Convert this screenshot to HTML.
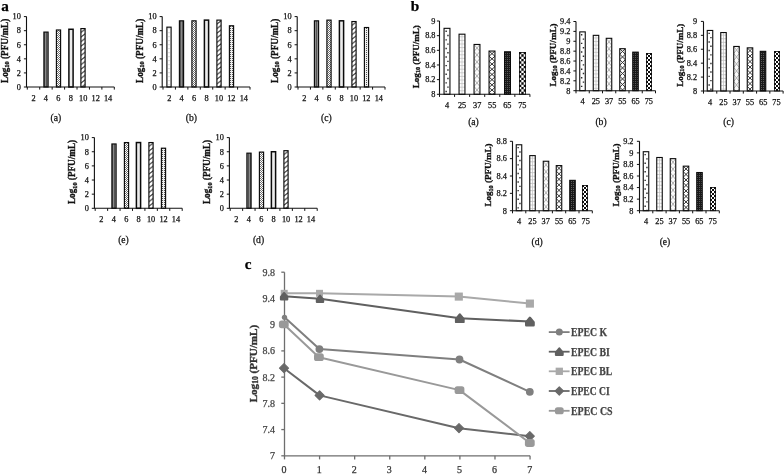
<!DOCTYPE html>
<html><head><meta charset="utf-8"><title>Figure</title>
<style>html,body{margin:0;padding:0;background:#fff;}body{width:784px;height:475px;overflow:hidden;}svg{display:block;font-family:"Liberation Serif",serif;filter:blur(0.45px);}</style>
</head><body>
<svg width="784" height="475" viewBox="0 0 784 475">
<defs>
<pattern id="a2" width="3" height="4" patternUnits="userSpaceOnUse"><rect width="3" height="4" fill="#fff"/><rect x="1" y="1" width="1" height="1" fill="#bbb"/></pattern>
<pattern id="a4" width="2" height="2" patternUnits="userSpaceOnUse"><rect width="2" height="2" fill="#8a8a8a"/><rect width="1" height="2" fill="#555"/></pattern>
<pattern id="a6" width="2" height="2" patternUnits="userSpaceOnUse"><rect width="2" height="2" fill="#fff"/><rect x="0" y="0" width="1" height="1" fill="#707070"/><rect x="1" y="1" width="1" height="1" fill="#707070"/></pattern>
<pattern id="a10" width="6" height="4.6" patternUnits="userSpaceOnUse"><rect width="6" height="4.6" fill="#fff"/><path d="M-1 5.37 L7 -0.77 M-1 9.97 L7 3.83 M-1 0.77 L7 -5.37" stroke="#333" stroke-width="1.05"/></pattern>
<pattern id="a12" width="2" height="2" patternUnits="userSpaceOnUse"><rect width="2" height="2" fill="#ededed"/><rect x="0" y="0" width="1" height="1" fill="#505050"/></pattern>
<pattern id="b1" width="4.4" height="8.6" patternUnits="userSpaceOnUse"><rect width="4.4" height="8.6" fill="#fff"/><rect x="0.6" y="1.5" width="1.3" height="1.3" fill="#6a6a6a"/><rect x="2.6" y="5.8" width="1.3" height="1.3" fill="#6a6a6a"/></pattern>
<pattern id="b2" width="4.4" height="4.3" patternUnits="userSpaceOnUse"><rect width="4.4" height="4.3" fill="#f1f1f1"/><path d="M0 0.5H4.4M2.2 0V4.3" stroke="#bcbcbc" stroke-width="0.9"/></pattern>
<pattern id="b3" width="4.4" height="6.4" patternUnits="userSpaceOnUse"><rect width="4.4" height="6.4" fill="#f7f7f7"/><path d="M0 0L4.4 6.4M4.4 0L0 6.4" stroke="#a8a8a8" stroke-width="0.8"/></pattern>
<pattern id="b4" width="5" height="4.4" patternUnits="userSpaceOnUse"><rect width="5" height="4.4" fill="#fff"/><path d="M0 0L5 4.4M5 0L0 4.4" stroke="#222" stroke-width="0.9"/></pattern>
<pattern id="b5" width="2" height="2" patternUnits="userSpaceOnUse"><rect width="2" height="2" fill="#1a1a1a"/><rect x="1" y="1" width="1" height="1" fill="#5a5a5a"/></pattern>
<pattern id="b6" width="4" height="4" patternUnits="userSpaceOnUse"><rect width="4" height="4" fill="#fff"/><rect x="0" y="0" width="2" height="2" fill="#111"/><rect x="2" y="2" width="2" height="2" fill="#111"/></pattern>
</defs>
<rect width="784" height="475" fill="#fff"/>
<text x="1.20" y="11.20" font-size="15.2" text-anchor="start" font-weight="bold" fill="#000" stroke="#000" stroke-width="0.25" >a</text>
<text x="410.80" y="11.30" font-size="15.3" text-anchor="start" font-weight="bold" fill="#000" stroke="#000" stroke-width="0.25" >b</text>
<text x="244.80" y="269.10" font-size="15.2" text-anchor="start" font-weight="bold" fill="#000" stroke="#000" stroke-width="0.25" >c</text>
<rect x="43.90" y="32.09" width="4.20" height="54.91" fill="url(#a4)" stroke="#0a0a0a" stroke-width="1.15"/>
<rect x="56.40" y="29.98" width="4.20" height="57.02" fill="url(#a6)" stroke="#0a0a0a" stroke-width="1.15"/>
<rect x="68.90" y="29.27" width="4.20" height="57.73" fill="#ececec" stroke="#0a0a0a" stroke-width="1.5"/>
<pattern id="a10_1" href="#a10" x="80.00" y="28.57"/>
<rect x="80.90" y="28.57" width="4.20" height="58.43" fill="url(#a10_1)" stroke="#0a0a0a" stroke-width="1.15"/>
<path d="M26.50 16.60V87.00H114.31" fill="none" stroke="#111" stroke-width="1.1"/>
<path d="M23.90 87.00H26.50" stroke="#111" stroke-width="1"/>
<text x="20.90" y="89.80" font-size="8.3" text-anchor="end" font-weight="normal" fill="#111" stroke="#111" stroke-width="0.25" >0</text>
<path d="M23.90 72.92H26.50" stroke="#111" stroke-width="1"/>
<text x="20.90" y="75.72" font-size="8.3" text-anchor="end" font-weight="normal" fill="#111" stroke="#111" stroke-width="0.25" >2</text>
<path d="M23.90 58.84H26.50" stroke="#111" stroke-width="1"/>
<text x="20.90" y="61.64" font-size="8.3" text-anchor="end" font-weight="normal" fill="#111" stroke="#111" stroke-width="0.25" >4</text>
<path d="M23.90 44.76H26.50" stroke="#111" stroke-width="1"/>
<text x="20.90" y="47.56" font-size="8.3" text-anchor="end" font-weight="normal" fill="#111" stroke="#111" stroke-width="0.25" >6</text>
<path d="M23.90 30.68H26.50" stroke="#111" stroke-width="1"/>
<text x="20.90" y="33.48" font-size="8.3" text-anchor="end" font-weight="normal" fill="#111" stroke="#111" stroke-width="0.25" >8</text>
<path d="M23.90 16.60H26.50" stroke="#111" stroke-width="1"/>
<text x="20.90" y="19.40" font-size="8.3" text-anchor="end" font-weight="normal" fill="#111" stroke="#111" stroke-width="0.25" >10</text>
<path d="M27.30 87.00V89.60" stroke="#111" stroke-width="1"/>
<path d="M39.73 87.00V89.60" stroke="#111" stroke-width="1"/>
<path d="M52.16 87.00V89.60" stroke="#111" stroke-width="1"/>
<path d="M64.59 87.00V89.60" stroke="#111" stroke-width="1"/>
<path d="M77.02 87.00V89.60" stroke="#111" stroke-width="1"/>
<path d="M89.45 87.00V89.60" stroke="#111" stroke-width="1"/>
<path d="M101.88 87.00V89.60" stroke="#111" stroke-width="1"/>
<path d="M114.31 87.00V89.60" stroke="#111" stroke-width="1"/>
<text x="33.52" y="100.90" font-size="8.3" text-anchor="middle" font-weight="normal" fill="#111" stroke="#111" stroke-width="0.25" >2</text>
<text x="45.95" y="100.90" font-size="8.3" text-anchor="middle" font-weight="normal" fill="#111" stroke="#111" stroke-width="0.25" >4</text>
<text x="58.38" y="100.90" font-size="8.3" text-anchor="middle" font-weight="normal" fill="#111" stroke="#111" stroke-width="0.25" >6</text>
<text x="70.80" y="100.90" font-size="8.3" text-anchor="middle" font-weight="normal" fill="#111" stroke="#111" stroke-width="0.25" >8</text>
<text x="83.23" y="100.90" font-size="8.3" text-anchor="middle" font-weight="normal" fill="#111" stroke="#111" stroke-width="0.25" >10</text>
<text x="95.66" y="100.90" font-size="8.3" text-anchor="middle" font-weight="normal" fill="#111" stroke="#111" stroke-width="0.25" >12</text>
<text x="108.09" y="100.90" font-size="8.3" text-anchor="middle" font-weight="normal" fill="#111" stroke="#111" stroke-width="0.25" >14</text>
<text x="55.90" y="121.20" font-size="9.6" text-anchor="middle" font-weight="normal" fill="#111" stroke="#111" stroke-width="0.25" >(a)</text>
<g transform="translate(4.70,50.80) rotate(-90)">
<text x="0" y="0" font-size="9.3" font-weight="bold" fill="#111" stroke="#111" stroke-width="0.35" text-anchor="middle" textLength="64.2" lengthAdjust="spacingAndGlyphs" dominant-baseline="central">Log<tspan font-size="6.32" dy="1.49">10</tspan><tspan dy="-1.49"> (PFU/mL)</tspan></text>
</g>
<pattern id="a2_2" href="#a2" x="167.50" y="27.16"/>
<rect x="166.90" y="27.16" width="4.20" height="59.84" fill="url(#a2_2)" stroke="#0a0a0a" stroke-width="1.15"/>
<rect x="179.40" y="20.82" width="4.20" height="66.18" fill="url(#a4)" stroke="#0a0a0a" stroke-width="1.15"/>
<rect x="191.90" y="20.82" width="4.20" height="66.18" fill="url(#a6)" stroke="#0a0a0a" stroke-width="1.15"/>
<rect x="204.40" y="20.12" width="4.20" height="66.88" fill="#ececec" stroke="#0a0a0a" stroke-width="1.5"/>
<pattern id="a10_3" href="#a10" x="216.00" y="20.12"/>
<rect x="216.90" y="20.12" width="4.20" height="66.88" fill="url(#a10_3)" stroke="#0a0a0a" stroke-width="1.15"/>
<rect x="229.40" y="25.75" width="4.20" height="61.25" fill="url(#a12)" stroke="#0a0a0a" stroke-width="1.15"/>
<path d="M162.20 16.60V87.00H250.01" fill="none" stroke="#111" stroke-width="1.1"/>
<path d="M159.60 87.00H162.20" stroke="#111" stroke-width="1"/>
<text x="156.60" y="89.80" font-size="8.3" text-anchor="end" font-weight="normal" fill="#111" stroke="#111" stroke-width="0.25" >0</text>
<path d="M159.60 72.92H162.20" stroke="#111" stroke-width="1"/>
<text x="156.60" y="75.72" font-size="8.3" text-anchor="end" font-weight="normal" fill="#111" stroke="#111" stroke-width="0.25" >2</text>
<path d="M159.60 58.84H162.20" stroke="#111" stroke-width="1"/>
<text x="156.60" y="61.64" font-size="8.3" text-anchor="end" font-weight="normal" fill="#111" stroke="#111" stroke-width="0.25" >4</text>
<path d="M159.60 44.76H162.20" stroke="#111" stroke-width="1"/>
<text x="156.60" y="47.56" font-size="8.3" text-anchor="end" font-weight="normal" fill="#111" stroke="#111" stroke-width="0.25" >6</text>
<path d="M159.60 30.68H162.20" stroke="#111" stroke-width="1"/>
<text x="156.60" y="33.48" font-size="8.3" text-anchor="end" font-weight="normal" fill="#111" stroke="#111" stroke-width="0.25" >8</text>
<path d="M159.60 16.60H162.20" stroke="#111" stroke-width="1"/>
<text x="156.60" y="19.40" font-size="8.3" text-anchor="end" font-weight="normal" fill="#111" stroke="#111" stroke-width="0.25" >10</text>
<path d="M163.00 87.00V89.60" stroke="#111" stroke-width="1"/>
<path d="M175.43 87.00V89.60" stroke="#111" stroke-width="1"/>
<path d="M187.86 87.00V89.60" stroke="#111" stroke-width="1"/>
<path d="M200.29 87.00V89.60" stroke="#111" stroke-width="1"/>
<path d="M212.72 87.00V89.60" stroke="#111" stroke-width="1"/>
<path d="M225.15 87.00V89.60" stroke="#111" stroke-width="1"/>
<path d="M237.58 87.00V89.60" stroke="#111" stroke-width="1"/>
<path d="M250.01 87.00V89.60" stroke="#111" stroke-width="1"/>
<text x="169.22" y="100.90" font-size="8.3" text-anchor="middle" font-weight="normal" fill="#111" stroke="#111" stroke-width="0.25" >2</text>
<text x="181.65" y="100.90" font-size="8.3" text-anchor="middle" font-weight="normal" fill="#111" stroke="#111" stroke-width="0.25" >4</text>
<text x="194.07" y="100.90" font-size="8.3" text-anchor="middle" font-weight="normal" fill="#111" stroke="#111" stroke-width="0.25" >6</text>
<text x="206.50" y="100.90" font-size="8.3" text-anchor="middle" font-weight="normal" fill="#111" stroke="#111" stroke-width="0.25" >8</text>
<text x="218.94" y="100.90" font-size="8.3" text-anchor="middle" font-weight="normal" fill="#111" stroke="#111" stroke-width="0.25" >10</text>
<text x="231.37" y="100.90" font-size="8.3" text-anchor="middle" font-weight="normal" fill="#111" stroke="#111" stroke-width="0.25" >12</text>
<text x="243.80" y="100.90" font-size="8.3" text-anchor="middle" font-weight="normal" fill="#111" stroke="#111" stroke-width="0.25" >14</text>
<text x="191.40" y="121.20" font-size="9.6" text-anchor="middle" font-weight="normal" fill="#111" stroke="#111" stroke-width="0.25" >(b)</text>
<g transform="translate(139.60,50.80) rotate(-90)">
<text x="0" y="0" font-size="9.3" font-weight="bold" fill="#111" stroke="#111" stroke-width="0.35" text-anchor="middle" textLength="64.2" lengthAdjust="spacingAndGlyphs" dominant-baseline="central">Log<tspan font-size="6.32" dy="1.49">10</tspan><tspan dy="-1.49"> (PFU/mL)</tspan></text>
</g>
<rect x="314.40" y="20.82" width="4.20" height="66.18" fill="url(#a4)" stroke="#0a0a0a" stroke-width="1.15"/>
<rect x="326.90" y="20.12" width="4.20" height="66.88" fill="url(#a6)" stroke="#0a0a0a" stroke-width="1.15"/>
<rect x="339.40" y="20.82" width="4.20" height="66.18" fill="#ececec" stroke="#0a0a0a" stroke-width="1.5"/>
<pattern id="a10_4" href="#a10" x="351.00" y="21.53"/>
<rect x="351.90" y="21.53" width="4.20" height="65.47" fill="url(#a10_4)" stroke="#0a0a0a" stroke-width="1.15"/>
<rect x="364.40" y="27.51" width="4.20" height="59.49" fill="url(#a12)" stroke="#0a0a0a" stroke-width="1.15"/>
<path d="M297.20 16.60V87.00H385.01" fill="none" stroke="#111" stroke-width="1.1"/>
<path d="M294.60 87.00H297.20" stroke="#111" stroke-width="1"/>
<text x="291.60" y="89.80" font-size="8.3" text-anchor="end" font-weight="normal" fill="#111" stroke="#111" stroke-width="0.25" >0</text>
<path d="M294.60 72.92H297.20" stroke="#111" stroke-width="1"/>
<text x="291.60" y="75.72" font-size="8.3" text-anchor="end" font-weight="normal" fill="#111" stroke="#111" stroke-width="0.25" >2</text>
<path d="M294.60 58.84H297.20" stroke="#111" stroke-width="1"/>
<text x="291.60" y="61.64" font-size="8.3" text-anchor="end" font-weight="normal" fill="#111" stroke="#111" stroke-width="0.25" >4</text>
<path d="M294.60 44.76H297.20" stroke="#111" stroke-width="1"/>
<text x="291.60" y="47.56" font-size="8.3" text-anchor="end" font-weight="normal" fill="#111" stroke="#111" stroke-width="0.25" >6</text>
<path d="M294.60 30.68H297.20" stroke="#111" stroke-width="1"/>
<text x="291.60" y="33.48" font-size="8.3" text-anchor="end" font-weight="normal" fill="#111" stroke="#111" stroke-width="0.25" >8</text>
<path d="M294.60 16.60H297.20" stroke="#111" stroke-width="1"/>
<text x="291.60" y="19.40" font-size="8.3" text-anchor="end" font-weight="normal" fill="#111" stroke="#111" stroke-width="0.25" >10</text>
<path d="M298.00 87.00V89.60" stroke="#111" stroke-width="1"/>
<path d="M310.43 87.00V89.60" stroke="#111" stroke-width="1"/>
<path d="M322.86 87.00V89.60" stroke="#111" stroke-width="1"/>
<path d="M335.29 87.00V89.60" stroke="#111" stroke-width="1"/>
<path d="M347.72 87.00V89.60" stroke="#111" stroke-width="1"/>
<path d="M360.15 87.00V89.60" stroke="#111" stroke-width="1"/>
<path d="M372.58 87.00V89.60" stroke="#111" stroke-width="1"/>
<path d="M385.01 87.00V89.60" stroke="#111" stroke-width="1"/>
<text x="304.21" y="100.90" font-size="8.3" text-anchor="middle" font-weight="normal" fill="#111" stroke="#111" stroke-width="0.25" >2</text>
<text x="316.64" y="100.90" font-size="8.3" text-anchor="middle" font-weight="normal" fill="#111" stroke="#111" stroke-width="0.25" >4</text>
<text x="329.07" y="100.90" font-size="8.3" text-anchor="middle" font-weight="normal" fill="#111" stroke="#111" stroke-width="0.25" >6</text>
<text x="341.50" y="100.90" font-size="8.3" text-anchor="middle" font-weight="normal" fill="#111" stroke="#111" stroke-width="0.25" >8</text>
<text x="353.94" y="100.90" font-size="8.3" text-anchor="middle" font-weight="normal" fill="#111" stroke="#111" stroke-width="0.25" >10</text>
<text x="366.37" y="100.90" font-size="8.3" text-anchor="middle" font-weight="normal" fill="#111" stroke="#111" stroke-width="0.25" >12</text>
<text x="378.80" y="100.90" font-size="8.3" text-anchor="middle" font-weight="normal" fill="#111" stroke="#111" stroke-width="0.25" >14</text>
<text x="326.40" y="121.20" font-size="9.6" text-anchor="middle" font-weight="normal" fill="#111" stroke="#111" stroke-width="0.25" >(c)</text>
<g transform="translate(274.60,50.80) rotate(-90)">
<text x="0" y="0" font-size="9.3" font-weight="bold" fill="#111" stroke="#111" stroke-width="0.35" text-anchor="middle" textLength="64.2" lengthAdjust="spacingAndGlyphs" dominant-baseline="central">Log<tspan font-size="6.32" dy="1.49">10</tspan><tspan dy="-1.49"> (PFU/mL)</tspan></text>
</g>
<rect x="111.90" y="143.96" width="4.20" height="64.34" fill="url(#a4)" stroke="#0a0a0a" stroke-width="1.15"/>
<rect x="124.40" y="142.55" width="4.20" height="65.75" fill="url(#a6)" stroke="#0a0a0a" stroke-width="1.15"/>
<rect x="136.40" y="142.55" width="4.20" height="65.75" fill="#ececec" stroke="#0a0a0a" stroke-width="1.5"/>
<pattern id="a10_5" href="#a10" x="148.00" y="142.55"/>
<rect x="148.90" y="142.55" width="4.20" height="65.75" fill="url(#a10_5)" stroke="#0a0a0a" stroke-width="1.15"/>
<rect x="161.40" y="148.20" width="4.20" height="60.10" fill="url(#a12)" stroke="#0a0a0a" stroke-width="1.15"/>
<path d="M94.40 137.60V208.30H182.21" fill="none" stroke="#111" stroke-width="1.1"/>
<path d="M91.80 208.30H94.40" stroke="#111" stroke-width="1"/>
<text x="88.80" y="211.10" font-size="8.3" text-anchor="end" font-weight="normal" fill="#111" stroke="#111" stroke-width="0.25" >0</text>
<path d="M91.80 194.16H94.40" stroke="#111" stroke-width="1"/>
<text x="88.80" y="196.96" font-size="8.3" text-anchor="end" font-weight="normal" fill="#111" stroke="#111" stroke-width="0.25" >2</text>
<path d="M91.80 180.02H94.40" stroke="#111" stroke-width="1"/>
<text x="88.80" y="182.82" font-size="8.3" text-anchor="end" font-weight="normal" fill="#111" stroke="#111" stroke-width="0.25" >4</text>
<path d="M91.80 165.88H94.40" stroke="#111" stroke-width="1"/>
<text x="88.80" y="168.68" font-size="8.3" text-anchor="end" font-weight="normal" fill="#111" stroke="#111" stroke-width="0.25" >6</text>
<path d="M91.80 151.74H94.40" stroke="#111" stroke-width="1"/>
<text x="88.80" y="154.54" font-size="8.3" text-anchor="end" font-weight="normal" fill="#111" stroke="#111" stroke-width="0.25" >8</text>
<path d="M91.80 137.60H94.40" stroke="#111" stroke-width="1"/>
<text x="88.80" y="140.40" font-size="8.3" text-anchor="end" font-weight="normal" fill="#111" stroke="#111" stroke-width="0.25" >10</text>
<path d="M95.20 208.30V210.90" stroke="#111" stroke-width="1"/>
<path d="M107.63 208.30V210.90" stroke="#111" stroke-width="1"/>
<path d="M120.06 208.30V210.90" stroke="#111" stroke-width="1"/>
<path d="M132.49 208.30V210.90" stroke="#111" stroke-width="1"/>
<path d="M144.92 208.30V210.90" stroke="#111" stroke-width="1"/>
<path d="M157.35 208.30V210.90" stroke="#111" stroke-width="1"/>
<path d="M169.78 208.30V210.90" stroke="#111" stroke-width="1"/>
<path d="M182.21 208.30V210.90" stroke="#111" stroke-width="1"/>
<text x="101.42" y="222.20" font-size="8.3" text-anchor="middle" font-weight="normal" fill="#111" stroke="#111" stroke-width="0.25" >2</text>
<text x="113.84" y="222.20" font-size="8.3" text-anchor="middle" font-weight="normal" fill="#111" stroke="#111" stroke-width="0.25" >4</text>
<text x="126.28" y="222.20" font-size="8.3" text-anchor="middle" font-weight="normal" fill="#111" stroke="#111" stroke-width="0.25" >6</text>
<text x="138.70" y="222.20" font-size="8.3" text-anchor="middle" font-weight="normal" fill="#111" stroke="#111" stroke-width="0.25" >8</text>
<text x="151.13" y="222.20" font-size="8.3" text-anchor="middle" font-weight="normal" fill="#111" stroke="#111" stroke-width="0.25" >10</text>
<text x="163.56" y="222.20" font-size="8.3" text-anchor="middle" font-weight="normal" fill="#111" stroke="#111" stroke-width="0.25" >12</text>
<text x="176.00" y="222.20" font-size="8.3" text-anchor="middle" font-weight="normal" fill="#111" stroke="#111" stroke-width="0.25" >14</text>
<text x="123.50" y="242.50" font-size="9.6" text-anchor="middle" font-weight="normal" fill="#111" stroke="#111" stroke-width="0.25" >(e)</text>
<g transform="translate(72.10,171.95) rotate(-90)">
<text x="0" y="0" font-size="9.3" font-weight="bold" fill="#111" stroke="#111" stroke-width="0.35" text-anchor="middle" textLength="64.2" lengthAdjust="spacingAndGlyphs" dominant-baseline="central">Log<tspan font-size="6.32" dy="1.49">10</tspan><tspan dy="-1.49"> (PFU/mL)</tspan></text>
</g>
<rect x="246.90" y="153.15" width="4.20" height="55.15" fill="url(#a4)" stroke="#0a0a0a" stroke-width="1.15"/>
<rect x="259.40" y="152.09" width="4.20" height="56.21" fill="url(#a6)" stroke="#0a0a0a" stroke-width="1.15"/>
<rect x="271.40" y="151.74" width="4.20" height="56.56" fill="#ececec" stroke="#0a0a0a" stroke-width="1.5"/>
<pattern id="a10_6" href="#a10" x="283.00" y="150.68"/>
<rect x="283.90" y="150.68" width="4.20" height="57.62" fill="url(#a10_6)" stroke="#0a0a0a" stroke-width="1.15"/>
<path d="M229.40 137.60V208.30H317.21" fill="none" stroke="#111" stroke-width="1.1"/>
<path d="M226.80 208.30H229.40" stroke="#111" stroke-width="1"/>
<text x="223.80" y="211.10" font-size="8.3" text-anchor="end" font-weight="normal" fill="#111" stroke="#111" stroke-width="0.25" >0</text>
<path d="M226.80 194.16H229.40" stroke="#111" stroke-width="1"/>
<text x="223.80" y="196.96" font-size="8.3" text-anchor="end" font-weight="normal" fill="#111" stroke="#111" stroke-width="0.25" >2</text>
<path d="M226.80 180.02H229.40" stroke="#111" stroke-width="1"/>
<text x="223.80" y="182.82" font-size="8.3" text-anchor="end" font-weight="normal" fill="#111" stroke="#111" stroke-width="0.25" >4</text>
<path d="M226.80 165.88H229.40" stroke="#111" stroke-width="1"/>
<text x="223.80" y="168.68" font-size="8.3" text-anchor="end" font-weight="normal" fill="#111" stroke="#111" stroke-width="0.25" >6</text>
<path d="M226.80 151.74H229.40" stroke="#111" stroke-width="1"/>
<text x="223.80" y="154.54" font-size="8.3" text-anchor="end" font-weight="normal" fill="#111" stroke="#111" stroke-width="0.25" >8</text>
<path d="M226.80 137.60H229.40" stroke="#111" stroke-width="1"/>
<text x="223.80" y="140.40" font-size="8.3" text-anchor="end" font-weight="normal" fill="#111" stroke="#111" stroke-width="0.25" >10</text>
<path d="M230.20 208.30V210.90" stroke="#111" stroke-width="1"/>
<path d="M242.63 208.30V210.90" stroke="#111" stroke-width="1"/>
<path d="M255.06 208.30V210.90" stroke="#111" stroke-width="1"/>
<path d="M267.49 208.30V210.90" stroke="#111" stroke-width="1"/>
<path d="M279.92 208.30V210.90" stroke="#111" stroke-width="1"/>
<path d="M292.35 208.30V210.90" stroke="#111" stroke-width="1"/>
<path d="M304.78 208.30V210.90" stroke="#111" stroke-width="1"/>
<path d="M317.21 208.30V210.90" stroke="#111" stroke-width="1"/>
<text x="236.41" y="222.20" font-size="8.3" text-anchor="middle" font-weight="normal" fill="#111" stroke="#111" stroke-width="0.25" >2</text>
<text x="248.84" y="222.20" font-size="8.3" text-anchor="middle" font-weight="normal" fill="#111" stroke="#111" stroke-width="0.25" >4</text>
<text x="261.27" y="222.20" font-size="8.3" text-anchor="middle" font-weight="normal" fill="#111" stroke="#111" stroke-width="0.25" >6</text>
<text x="273.70" y="222.20" font-size="8.3" text-anchor="middle" font-weight="normal" fill="#111" stroke="#111" stroke-width="0.25" >8</text>
<text x="286.13" y="222.20" font-size="8.3" text-anchor="middle" font-weight="normal" fill="#111" stroke="#111" stroke-width="0.25" >10</text>
<text x="298.56" y="222.20" font-size="8.3" text-anchor="middle" font-weight="normal" fill="#111" stroke="#111" stroke-width="0.25" >12</text>
<text x="311.00" y="222.20" font-size="8.3" text-anchor="middle" font-weight="normal" fill="#111" stroke="#111" stroke-width="0.25" >14</text>
<text x="258.50" y="242.50" font-size="9.6" text-anchor="middle" font-weight="normal" fill="#111" stroke="#111" stroke-width="0.25" >(d)</text>
<g transform="translate(207.10,171.95) rotate(-90)">
<text x="0" y="0" font-size="9.3" font-weight="bold" fill="#111" stroke="#111" stroke-width="0.35" text-anchor="middle" textLength="64.2" lengthAdjust="spacingAndGlyphs" dominant-baseline="central">Log<tspan font-size="6.32" dy="1.49">10</tspan><tspan dy="-1.49"> (PFU/mL)</tspan></text>
</g>
<clipPath id="c7"><rect x="444.05" y="28.33" width="5.90" height="65.97"/></clipPath>
<rect x="444.05" y="28.33" width="5.90" height="65.97" fill="#fff"/>
<g clip-path="url(#c7)">
<path d="M445.45 30.53h1.4v1.4h-1.4zM447.25 34.83h1.4v1.4h-1.4zM445.45 39.13h1.4v1.4h-1.4zM447.25 43.43h1.4v1.4h-1.4zM445.45 47.73h1.4v1.4h-1.4zM447.25 52.03h1.4v1.4h-1.4zM445.45 56.33h1.4v1.4h-1.4zM447.25 60.63h1.4v1.4h-1.4zM445.45 64.93h1.4v1.4h-1.4zM447.25 69.23h1.4v1.4h-1.4zM445.45 73.53h1.4v1.4h-1.4zM447.25 77.83h1.4v1.4h-1.4zM445.45 82.13h1.4v1.4h-1.4zM447.25 86.43h1.4v1.4h-1.4zM445.45 90.73h1.4v1.4h-1.4z" fill="#2a2a2a"/>
</g>
<rect x="444.05" y="28.33" width="5.90" height="65.97" fill="none" stroke="#0a0a0a" stroke-width="1.1"/>
<clipPath id="c8"><rect x="459.05" y="34.19" width="5.90" height="60.11"/></clipPath>
<rect x="459.05" y="34.19" width="5.90" height="60.11" fill="#fff"/>
<g clip-path="url(#c8)">
<path d="M462.00 34.19V94.30M459.05 36.79h5.90M459.05 40.39h5.90M459.05 43.99h5.90M459.05 47.59h5.90M459.05 51.19h5.90M459.05 54.79h5.90M459.05 58.39h5.90M459.05 61.99h5.90M459.05 65.59h5.90M459.05 69.19h5.90M459.05 72.79h5.90M459.05 76.39h5.90M459.05 79.99h5.90M459.05 83.59h5.90M459.05 87.19h5.90M459.05 90.79h5.90" fill="none" stroke="#bdbdbd" stroke-width="0.7"/>
</g>
<rect x="459.05" y="34.19" width="5.90" height="60.11" fill="none" stroke="#0a0a0a" stroke-width="1.1"/>
<clipPath id="c9"><rect x="474.05" y="44.46" width="5.90" height="49.84"/></clipPath>
<rect x="474.05" y="44.46" width="5.90" height="49.84" fill="#fafafa"/>
<g clip-path="url(#c9)">
<path d="M474.05 44.46L479.95 51.46L474.05 58.46L479.95 65.46L474.05 72.46L479.95 79.46L474.05 86.46L479.95 93.46L474.05 100.46M479.95 44.46L474.05 51.46L479.95 58.46L474.05 65.46L479.95 72.46L474.05 79.46L479.95 86.46L474.05 93.46L479.95 100.46" fill="none" stroke="#a0a0a0" stroke-width="0.8"/>
</g>
<rect x="474.05" y="44.46" width="5.90" height="49.84" fill="none" stroke="#0a0a0a" stroke-width="1.1"/>
<clipPath id="c10"><rect x="489.05" y="51.05" width="5.90" height="43.25"/></clipPath>
<rect x="489.05" y="51.05" width="5.90" height="43.25" fill="#fff"/>
<g clip-path="url(#c10)">
<path d="M489.05 51.05L494.95 56.25L489.05 61.45L494.95 66.65L489.05 71.85L494.95 77.05L489.05 82.25L494.95 87.45L489.05 92.65L494.95 97.85M494.95 51.05L489.05 56.25L494.95 61.45L489.05 66.65L494.95 71.85L489.05 77.05L494.95 82.25L489.05 87.45L494.95 92.65L489.05 97.85" fill="none" stroke="#2a2a2a" stroke-width="0.95"/>
</g>
<rect x="489.05" y="51.05" width="5.90" height="43.25" fill="none" stroke="#0a0a0a" stroke-width="1.1"/>
<rect x="504.55" y="51.79" width="5.90" height="42.51" fill="url(#b5)" stroke="#0a0a0a" stroke-width="1.1"/>
<rect x="519" y="52" width="7.00" height="42.30" fill="#fff"/>
<path d="M519.00 52.00h2.33v2.33h-2.33zM523.67 52.00h2.33v2.33h-2.33zM521.33 54.33h2.33v2.33h-2.33zM519.00 56.67h2.33v2.33h-2.33zM523.67 56.67h2.33v2.33h-2.33zM521.33 59.00h2.33v2.33h-2.33zM519.00 61.33h2.33v2.33h-2.33zM523.67 61.33h2.33v2.33h-2.33zM521.33 63.67h2.33v2.33h-2.33zM519.00 66.00h2.33v2.33h-2.33zM523.67 66.00h2.33v2.33h-2.33zM521.33 68.33h2.33v2.33h-2.33zM519.00 70.67h2.33v2.33h-2.33zM523.67 70.67h2.33v2.33h-2.33zM521.33 73.00h2.33v2.33h-2.33zM519.00 75.33h2.33v2.33h-2.33zM523.67 75.33h2.33v2.33h-2.33zM521.33 77.67h2.33v2.33h-2.33zM519.00 80.00h2.33v2.33h-2.33zM523.67 80.00h2.33v2.33h-2.33zM521.33 82.33h2.33v2.33h-2.33zM519.00 84.67h2.33v2.33h-2.33zM523.67 84.67h2.33v2.33h-2.33zM521.33 87.00h2.33v2.33h-2.33zM519.00 89.33h2.33v2.33h-2.33zM523.67 89.33h2.33v2.33h-2.33zM521.33 91.67h2.33v2.33h-2.33zM519.00 94.00h2.33v0.30h-2.33zM523.67 94.00h2.33v0.30h-2.33z" fill="#0c0c0c"/>
<rect x="519.40" y="52.40" width="6.20" height="41.90" fill="none" stroke="#0c0c0c" stroke-width="0.8"/>
<path d="M439.50 21.00V94.30H529.92" fill="none" stroke="#111" stroke-width="1.1"/>
<path d="M436.90 94.30H439.50" stroke="#111" stroke-width="1"/>
<text x="435.50" y="97.10" font-size="8.3" text-anchor="end" font-weight="normal" fill="#111" stroke="#111" stroke-width="0.25" >8</text>
<path d="M436.90 79.64H439.50" stroke="#111" stroke-width="1"/>
<text x="435.50" y="82.44" font-size="8.3" text-anchor="end" font-weight="normal" fill="#111" stroke="#111" stroke-width="0.25" >8.2</text>
<path d="M436.90 64.98H439.50" stroke="#111" stroke-width="1"/>
<text x="435.50" y="67.78" font-size="8.3" text-anchor="end" font-weight="normal" fill="#111" stroke="#111" stroke-width="0.25" >8.4</text>
<path d="M436.90 50.32H439.50" stroke="#111" stroke-width="1"/>
<text x="435.50" y="53.12" font-size="8.3" text-anchor="end" font-weight="normal" fill="#111" stroke="#111" stroke-width="0.25" >8.6</text>
<path d="M436.90 35.66H439.50" stroke="#111" stroke-width="1"/>
<text x="435.50" y="38.46" font-size="8.3" text-anchor="end" font-weight="normal" fill="#111" stroke="#111" stroke-width="0.25" >8.8</text>
<path d="M436.90 21.00H439.50" stroke="#111" stroke-width="1"/>
<text x="435.50" y="23.80" font-size="8.3" text-anchor="end" font-weight="normal" fill="#111" stroke="#111" stroke-width="0.25" >9</text>
<path d="M439.50 94.30V96.90" stroke="#111" stroke-width="1"/>
<path d="M454.57 94.30V96.90" stroke="#111" stroke-width="1"/>
<path d="M469.64 94.30V96.90" stroke="#111" stroke-width="1"/>
<path d="M484.71 94.30V96.90" stroke="#111" stroke-width="1"/>
<path d="M499.78 94.30V96.90" stroke="#111" stroke-width="1"/>
<path d="M514.85 94.30V96.90" stroke="#111" stroke-width="1"/>
<path d="M529.92 94.30V96.90" stroke="#111" stroke-width="1"/>
<text x="447.04" y="107.60" font-size="8.3" text-anchor="middle" font-weight="normal" fill="#111" stroke="#111" stroke-width="0.25" >4</text>
<text x="462.11" y="107.60" font-size="8.3" text-anchor="middle" font-weight="normal" fill="#111" stroke="#111" stroke-width="0.25" >25</text>
<text x="477.18" y="107.60" font-size="8.3" text-anchor="middle" font-weight="normal" fill="#111" stroke="#111" stroke-width="0.25" >37</text>
<text x="492.25" y="107.60" font-size="8.3" text-anchor="middle" font-weight="normal" fill="#111" stroke="#111" stroke-width="0.25" >55</text>
<text x="507.31" y="107.60" font-size="8.3" text-anchor="middle" font-weight="normal" fill="#111" stroke="#111" stroke-width="0.25" >65</text>
<text x="522.38" y="107.60" font-size="8.3" text-anchor="middle" font-weight="normal" fill="#111" stroke="#111" stroke-width="0.25" >75</text>
<text x="473.50" y="125.10" font-size="9.6" text-anchor="middle" font-weight="normal" fill="#111" stroke="#111" stroke-width="0.25" >(a)</text>
<g transform="translate(415.80,56.65) rotate(-90)">
<text x="0" y="0" font-size="9.2" font-weight="bold" fill="#111" stroke="#111" stroke-width="0.35" text-anchor="middle" textLength="63" lengthAdjust="spacingAndGlyphs" dominant-baseline="central">Log<tspan font-size="6.26" dy="1.47">10</tspan><tspan dy="-1.47"> (PFU/mL)</tspan></text>
</g>
<clipPath id="c12"><rect x="579.75" y="31.88" width="5.50" height="58.82"/></clipPath>
<rect x="579.75" y="31.88" width="5.50" height="58.82" fill="#fff"/>
<g clip-path="url(#c12)">
<path d="M580.95 34.08h1.4v1.4h-1.4zM582.75 38.38h1.4v1.4h-1.4zM580.95 42.68h1.4v1.4h-1.4zM582.75 46.98h1.4v1.4h-1.4zM580.95 51.28h1.4v1.4h-1.4zM582.75 55.58h1.4v1.4h-1.4zM580.95 59.88h1.4v1.4h-1.4zM582.75 64.18h1.4v1.4h-1.4zM580.95 68.48h1.4v1.4h-1.4zM582.75 72.78h1.4v1.4h-1.4zM580.95 77.08h1.4v1.4h-1.4zM582.75 81.38h1.4v1.4h-1.4zM580.95 85.68h1.4v1.4h-1.4zM582.75 89.98h1.4v1.4h-1.4z" fill="#2a2a2a"/>
</g>
<rect x="579.75" y="31.88" width="5.50" height="58.82" fill="none" stroke="#0a0a0a" stroke-width="1.1"/>
<clipPath id="c13"><rect x="593.25" y="35.34" width="5.50" height="55.36"/></clipPath>
<rect x="593.25" y="35.34" width="5.50" height="55.36" fill="#fff"/>
<g clip-path="url(#c13)">
<path d="M596.00 35.34V90.70M593.25 37.94h5.50M593.25 41.54h5.50M593.25 45.14h5.50M593.25 48.74h5.50M593.25 52.34h5.50M593.25 55.94h5.50M593.25 59.54h5.50M593.25 63.14h5.50M593.25 66.74h5.50M593.25 70.34h5.50M593.25 73.94h5.50M593.25 77.54h5.50M593.25 81.14h5.50M593.25 84.74h5.50M593.25 88.34h5.50" fill="none" stroke="#bdbdbd" stroke-width="0.7"/>
</g>
<rect x="593.25" y="35.34" width="5.50" height="55.36" fill="none" stroke="#0a0a0a" stroke-width="1.1"/>
<clipPath id="c14"><rect x="606.25" y="38.31" width="5.50" height="52.39"/></clipPath>
<rect x="606.25" y="38.31" width="5.50" height="52.39" fill="#fafafa"/>
<g clip-path="url(#c14)">
<path d="M606.25 38.31L611.75 45.31L606.25 52.31L611.75 59.31L606.25 66.31L611.75 73.31L606.25 80.31L611.75 87.31L606.25 94.31M611.75 38.31L606.25 45.31L611.75 52.31L606.25 59.31L611.75 66.31L606.25 73.31L611.75 80.31L606.25 87.31L611.75 94.31" fill="none" stroke="#a0a0a0" stroke-width="0.8"/>
</g>
<rect x="606.25" y="38.31" width="5.50" height="52.39" fill="none" stroke="#0a0a0a" stroke-width="1.1"/>
<clipPath id="c15"><rect x="619.75" y="48.69" width="5.50" height="42.01"/></clipPath>
<rect x="619.75" y="48.69" width="5.50" height="42.01" fill="#fff"/>
<g clip-path="url(#c15)">
<path d="M619.75 48.69L625.25 54.19L619.75 59.69L625.25 65.19L619.75 70.69L625.25 76.19L619.75 81.69L625.25 87.19L619.75 92.69M625.25 48.69L619.75 54.19L625.25 59.69L619.75 65.19L625.25 70.69L619.75 76.19L625.25 81.69L619.75 87.19L625.25 92.69" fill="none" stroke="#2a2a2a" stroke-width="0.95"/>
</g>
<rect x="619.75" y="48.69" width="5.50" height="42.01" fill="none" stroke="#0a0a0a" stroke-width="1.1"/>
<rect x="632.75" y="52.15" width="5.50" height="38.55" fill="url(#b5)" stroke="#0a0a0a" stroke-width="1.1"/>
<rect x="646" y="53" width="6.00" height="37.70" fill="#fff"/>
<path d="M646.00 53.00h2.00v2.00h-2.00zM650.00 53.00h2.00v2.00h-2.00zM648.00 55.00h2.00v2.00h-2.00zM646.00 57.00h2.00v2.00h-2.00zM650.00 57.00h2.00v2.00h-2.00zM648.00 59.00h2.00v2.00h-2.00zM646.00 61.00h2.00v2.00h-2.00zM650.00 61.00h2.00v2.00h-2.00zM648.00 63.00h2.00v2.00h-2.00zM646.00 65.00h2.00v2.00h-2.00zM650.00 65.00h2.00v2.00h-2.00zM648.00 67.00h2.00v2.00h-2.00zM646.00 69.00h2.00v2.00h-2.00zM650.00 69.00h2.00v2.00h-2.00zM648.00 71.00h2.00v2.00h-2.00zM646.00 73.00h2.00v2.00h-2.00zM650.00 73.00h2.00v2.00h-2.00zM648.00 75.00h2.00v2.00h-2.00zM646.00 77.00h2.00v2.00h-2.00zM650.00 77.00h2.00v2.00h-2.00zM648.00 79.00h2.00v2.00h-2.00zM646.00 81.00h2.00v2.00h-2.00zM650.00 81.00h2.00v2.00h-2.00zM648.00 83.00h2.00v2.00h-2.00zM646.00 85.00h2.00v2.00h-2.00zM650.00 85.00h2.00v2.00h-2.00zM648.00 87.00h2.00v2.00h-2.00zM646.00 89.00h2.00v1.70h-2.00zM650.00 89.00h2.00v1.70h-2.00z" fill="#0c0c0c"/>
<rect x="646.40" y="53.40" width="5.20" height="37.30" fill="none" stroke="#0c0c0c" stroke-width="0.8"/>
<path d="M576.00 21.50V90.70H655.50" fill="none" stroke="#111" stroke-width="1.1"/>
<path d="M573.40 90.70H576.00" stroke="#111" stroke-width="1"/>
<text x="570.40" y="93.50" font-size="8.3" text-anchor="end" font-weight="normal" fill="#111" stroke="#111" stroke-width="0.25" >8</text>
<path d="M573.40 80.81H576.00" stroke="#111" stroke-width="1"/>
<text x="570.40" y="83.61" font-size="8.3" text-anchor="end" font-weight="normal" fill="#111" stroke="#111" stroke-width="0.25" >8.2</text>
<path d="M573.40 70.93H576.00" stroke="#111" stroke-width="1"/>
<text x="570.40" y="73.73" font-size="8.3" text-anchor="end" font-weight="normal" fill="#111" stroke="#111" stroke-width="0.25" >8.4</text>
<path d="M573.40 61.04H576.00" stroke="#111" stroke-width="1"/>
<text x="570.40" y="63.84" font-size="8.3" text-anchor="end" font-weight="normal" fill="#111" stroke="#111" stroke-width="0.25" >8.6</text>
<path d="M573.40 51.16H576.00" stroke="#111" stroke-width="1"/>
<text x="570.40" y="53.96" font-size="8.3" text-anchor="end" font-weight="normal" fill="#111" stroke="#111" stroke-width="0.25" >8.8</text>
<path d="M573.40 41.27H576.00" stroke="#111" stroke-width="1"/>
<text x="570.40" y="44.07" font-size="8.3" text-anchor="end" font-weight="normal" fill="#111" stroke="#111" stroke-width="0.25" >9</text>
<path d="M573.40 31.39H576.00" stroke="#111" stroke-width="1"/>
<text x="570.40" y="34.19" font-size="8.3" text-anchor="end" font-weight="normal" fill="#111" stroke="#111" stroke-width="0.25" >9.2</text>
<path d="M573.40 21.50H576.00" stroke="#111" stroke-width="1"/>
<text x="570.40" y="24.30" font-size="8.3" text-anchor="end" font-weight="normal" fill="#111" stroke="#111" stroke-width="0.25" >9.4</text>
<path d="M576.00 90.70V93.30" stroke="#111" stroke-width="1"/>
<path d="M589.25 90.70V93.30" stroke="#111" stroke-width="1"/>
<path d="M602.50 90.70V93.30" stroke="#111" stroke-width="1"/>
<path d="M615.75 90.70V93.30" stroke="#111" stroke-width="1"/>
<path d="M629.00 90.70V93.30" stroke="#111" stroke-width="1"/>
<path d="M642.25 90.70V93.30" stroke="#111" stroke-width="1"/>
<path d="M655.50 90.70V93.30" stroke="#111" stroke-width="1"/>
<text x="582.62" y="104.30" font-size="8.3" text-anchor="middle" font-weight="normal" fill="#111" stroke="#111" stroke-width="0.25" >4</text>
<text x="595.88" y="104.30" font-size="8.3" text-anchor="middle" font-weight="normal" fill="#111" stroke="#111" stroke-width="0.25" >25</text>
<text x="609.12" y="104.30" font-size="8.3" text-anchor="middle" font-weight="normal" fill="#111" stroke="#111" stroke-width="0.25" >37</text>
<text x="622.38" y="104.30" font-size="8.3" text-anchor="middle" font-weight="normal" fill="#111" stroke="#111" stroke-width="0.25" >55</text>
<text x="635.62" y="104.30" font-size="8.3" text-anchor="middle" font-weight="normal" fill="#111" stroke="#111" stroke-width="0.25" >65</text>
<text x="648.88" y="104.30" font-size="8.3" text-anchor="middle" font-weight="normal" fill="#111" stroke="#111" stroke-width="0.25" >75</text>
<text x="601.00" y="125.10" font-size="9.6" text-anchor="middle" font-weight="normal" fill="#111" stroke="#111" stroke-width="0.25" >(b)</text>
<g transform="translate(552.80,55.10) rotate(-90)">
<text x="0" y="0" font-size="9.2" font-weight="bold" fill="#111" stroke="#111" stroke-width="0.35" text-anchor="middle" textLength="63" lengthAdjust="spacingAndGlyphs" dominant-baseline="central">Log<tspan font-size="6.26" dy="1.47">10</tspan><tspan dy="-1.47"> (PFU/mL)</tspan></text>
</g>
<clipPath id="c17"><rect x="707.25" y="30.45" width="5.50" height="60.55"/></clipPath>
<rect x="707.25" y="30.45" width="5.50" height="60.55" fill="#fff"/>
<g clip-path="url(#c17)">
<path d="M708.45 32.65h1.4v1.4h-1.4zM710.25 36.95h1.4v1.4h-1.4zM708.45 41.25h1.4v1.4h-1.4zM710.25 45.55h1.4v1.4h-1.4zM708.45 49.85h1.4v1.4h-1.4zM710.25 54.15h1.4v1.4h-1.4zM708.45 58.45h1.4v1.4h-1.4zM710.25 62.75h1.4v1.4h-1.4zM708.45 67.05h1.4v1.4h-1.4zM710.25 71.35h1.4v1.4h-1.4zM708.45 75.65h1.4v1.4h-1.4zM710.25 79.95h1.4v1.4h-1.4zM708.45 84.25h1.4v1.4h-1.4zM710.25 88.55h1.4v1.4h-1.4z" fill="#2a2a2a"/>
</g>
<rect x="707.25" y="30.45" width="5.50" height="60.55" fill="none" stroke="#0a0a0a" stroke-width="1.1"/>
<clipPath id="c18"><rect x="720.75" y="32.54" width="5.50" height="58.46"/></clipPath>
<rect x="720.75" y="32.54" width="5.50" height="58.46" fill="#fff"/>
<g clip-path="url(#c18)">
<path d="M723.50 32.54V91.00M720.75 35.14h5.50M720.75 38.74h5.50M720.75 42.34h5.50M720.75 45.94h5.50M720.75 49.54h5.50M720.75 53.14h5.50M720.75 56.74h5.50M720.75 60.34h5.50M720.75 63.94h5.50M720.75 67.54h5.50M720.75 71.14h5.50M720.75 74.74h5.50M720.75 78.34h5.50M720.75 81.94h5.50M720.75 85.54h5.50M720.75 89.14h5.50" fill="none" stroke="#bdbdbd" stroke-width="0.7"/>
</g>
<rect x="720.75" y="32.54" width="5.50" height="58.46" fill="none" stroke="#0a0a0a" stroke-width="1.1"/>
<clipPath id="c19"><rect x="733.75" y="46.46" width="5.50" height="44.54"/></clipPath>
<rect x="733.75" y="46.46" width="5.50" height="44.54" fill="#fafafa"/>
<g clip-path="url(#c19)">
<path d="M733.75 46.46L739.25 53.46L733.75 60.46L739.25 67.46L733.75 74.46L739.25 81.46L733.75 88.46L739.25 95.46M739.25 46.46L733.75 53.46L739.25 60.46L733.75 67.46L739.25 74.46L733.75 81.46L739.25 88.46L733.75 95.46" fill="none" stroke="#a0a0a0" stroke-width="0.8"/>
</g>
<rect x="733.75" y="46.46" width="5.50" height="44.54" fill="none" stroke="#0a0a0a" stroke-width="1.1"/>
<clipPath id="c20"><rect x="747.25" y="47.85" width="5.50" height="43.15"/></clipPath>
<rect x="747.25" y="47.85" width="5.50" height="43.15" fill="#fff"/>
<g clip-path="url(#c20)">
<path d="M747.25 47.85L752.75 53.35L747.25 58.85L752.75 64.35L747.25 69.85L752.75 75.35L747.25 80.85L752.75 86.35L747.25 91.85M752.75 47.85L747.25 53.35L752.75 58.85L747.25 64.35L752.75 69.85L747.25 75.35L752.75 80.85L747.25 86.35L752.75 91.85" fill="none" stroke="#2a2a2a" stroke-width="0.95"/>
</g>
<rect x="747.25" y="47.85" width="5.50" height="43.15" fill="none" stroke="#0a0a0a" stroke-width="1.1"/>
<rect x="760.25" y="51.33" width="5.50" height="39.67" fill="url(#b5)" stroke="#0a0a0a" stroke-width="1.1"/>
<rect x="774" y="51" width="6.00" height="40.00" fill="#fff"/>
<path d="M774.00 51.00h2.00v2.00h-2.00zM778.00 51.00h2.00v2.00h-2.00zM776.00 53.00h2.00v2.00h-2.00zM774.00 55.00h2.00v2.00h-2.00zM778.00 55.00h2.00v2.00h-2.00zM776.00 57.00h2.00v2.00h-2.00zM774.00 59.00h2.00v2.00h-2.00zM778.00 59.00h2.00v2.00h-2.00zM776.00 61.00h2.00v2.00h-2.00zM774.00 63.00h2.00v2.00h-2.00zM778.00 63.00h2.00v2.00h-2.00zM776.00 65.00h2.00v2.00h-2.00zM774.00 67.00h2.00v2.00h-2.00zM778.00 67.00h2.00v2.00h-2.00zM776.00 69.00h2.00v2.00h-2.00zM774.00 71.00h2.00v2.00h-2.00zM778.00 71.00h2.00v2.00h-2.00zM776.00 73.00h2.00v2.00h-2.00zM774.00 75.00h2.00v2.00h-2.00zM778.00 75.00h2.00v2.00h-2.00zM776.00 77.00h2.00v2.00h-2.00zM774.00 79.00h2.00v2.00h-2.00zM778.00 79.00h2.00v2.00h-2.00zM776.00 81.00h2.00v2.00h-2.00zM774.00 83.00h2.00v2.00h-2.00zM778.00 83.00h2.00v2.00h-2.00zM776.00 85.00h2.00v2.00h-2.00zM774.00 87.00h2.00v2.00h-2.00zM778.00 87.00h2.00v2.00h-2.00zM776.00 89.00h2.00v2.00h-2.00z" fill="#0c0c0c"/>
<rect x="774.40" y="51.40" width="5.20" height="39.60" fill="none" stroke="#0c0c0c" stroke-width="0.8"/>
<path d="M703.50 21.40V91.00H783.12" fill="none" stroke="#111" stroke-width="1.1"/>
<path d="M700.90 91.00H703.50" stroke="#111" stroke-width="1"/>
<text x="697.10" y="93.80" font-size="8.3" text-anchor="end" font-weight="normal" fill="#111" stroke="#111" stroke-width="0.25" >8</text>
<path d="M700.90 77.08H703.50" stroke="#111" stroke-width="1"/>
<text x="697.10" y="79.88" font-size="8.3" text-anchor="end" font-weight="normal" fill="#111" stroke="#111" stroke-width="0.25" >8.2</text>
<path d="M700.90 63.16H703.50" stroke="#111" stroke-width="1"/>
<text x="697.10" y="65.96" font-size="8.3" text-anchor="end" font-weight="normal" fill="#111" stroke="#111" stroke-width="0.25" >8.4</text>
<path d="M700.90 49.24H703.50" stroke="#111" stroke-width="1"/>
<text x="697.10" y="52.04" font-size="8.3" text-anchor="end" font-weight="normal" fill="#111" stroke="#111" stroke-width="0.25" >8.6</text>
<path d="M700.90 35.32H703.50" stroke="#111" stroke-width="1"/>
<text x="697.10" y="38.12" font-size="8.3" text-anchor="end" font-weight="normal" fill="#111" stroke="#111" stroke-width="0.25" >8.8</text>
<path d="M700.90 21.40H703.50" stroke="#111" stroke-width="1"/>
<text x="697.10" y="24.20" font-size="8.3" text-anchor="end" font-weight="normal" fill="#111" stroke="#111" stroke-width="0.25" >9</text>
<path d="M703.50 91.00V93.60" stroke="#111" stroke-width="1"/>
<path d="M716.77 91.00V93.60" stroke="#111" stroke-width="1"/>
<path d="M730.04 91.00V93.60" stroke="#111" stroke-width="1"/>
<path d="M743.31 91.00V93.60" stroke="#111" stroke-width="1"/>
<path d="M756.58 91.00V93.60" stroke="#111" stroke-width="1"/>
<path d="M769.85 91.00V93.60" stroke="#111" stroke-width="1"/>
<path d="M783.12 91.00V93.60" stroke="#111" stroke-width="1"/>
<text x="710.13" y="104.60" font-size="8.3" text-anchor="middle" font-weight="normal" fill="#111" stroke="#111" stroke-width="0.25" >4</text>
<text x="723.40" y="104.60" font-size="8.3" text-anchor="middle" font-weight="normal" fill="#111" stroke="#111" stroke-width="0.25" >25</text>
<text x="736.67" y="104.60" font-size="8.3" text-anchor="middle" font-weight="normal" fill="#111" stroke="#111" stroke-width="0.25" >37</text>
<text x="749.95" y="104.60" font-size="8.3" text-anchor="middle" font-weight="normal" fill="#111" stroke="#111" stroke-width="0.25" >55</text>
<text x="763.22" y="104.60" font-size="8.3" text-anchor="middle" font-weight="normal" fill="#111" stroke="#111" stroke-width="0.25" >65</text>
<text x="776.49" y="104.60" font-size="8.3" text-anchor="middle" font-weight="normal" fill="#111" stroke="#111" stroke-width="0.25" >75</text>
<text x="728.60" y="125.10" font-size="9.6" text-anchor="middle" font-weight="normal" fill="#111" stroke="#111" stroke-width="0.25" >(c)</text>
<g transform="translate(679.70,55.20) rotate(-90)">
<text x="0" y="0" font-size="9.2" font-weight="bold" fill="#111" stroke="#111" stroke-width="0.35" text-anchor="middle" textLength="63" lengthAdjust="spacingAndGlyphs" dominant-baseline="central">Log<tspan font-size="6.26" dy="1.47">10</tspan><tspan dy="-1.47"> (PFU/mL)</tspan></text>
</g>
<clipPath id="c22"><rect x="516.25" y="144.77" width="5.50" height="65.93"/></clipPath>
<rect x="516.25" y="144.77" width="5.50" height="65.93" fill="#fff"/>
<g clip-path="url(#c22)">
<path d="M517.45 146.97h1.4v1.4h-1.4zM519.25 151.27h1.4v1.4h-1.4zM517.45 155.57h1.4v1.4h-1.4zM519.25 159.87h1.4v1.4h-1.4zM517.45 164.17h1.4v1.4h-1.4zM519.25 168.47h1.4v1.4h-1.4zM517.45 172.77h1.4v1.4h-1.4zM519.25 177.07h1.4v1.4h-1.4zM517.45 181.37h1.4v1.4h-1.4zM519.25 185.67h1.4v1.4h-1.4zM517.45 189.97h1.4v1.4h-1.4zM519.25 194.27h1.4v1.4h-1.4zM517.45 198.57h1.4v1.4h-1.4zM519.25 202.87h1.4v1.4h-1.4zM517.45 207.17h1.4v1.4h-1.4z" fill="#2a2a2a"/>
</g>
<rect x="516.25" y="144.77" width="5.50" height="65.93" fill="none" stroke="#0a0a0a" stroke-width="1.1"/>
<clipPath id="c23"><rect x="529.75" y="155.61" width="5.50" height="55.09"/></clipPath>
<rect x="529.75" y="155.61" width="5.50" height="55.09" fill="#fff"/>
<g clip-path="url(#c23)">
<path d="M532.50 155.61V210.70M529.75 158.21h5.50M529.75 161.81h5.50M529.75 165.41h5.50M529.75 169.01h5.50M529.75 172.61h5.50M529.75 176.21h5.50M529.75 179.81h5.50M529.75 183.41h5.50M529.75 187.01h5.50M529.75 190.61h5.50M529.75 194.21h5.50M529.75 197.81h5.50M529.75 201.41h5.50M529.75 205.01h5.50M529.75 208.61h5.50" fill="none" stroke="#bdbdbd" stroke-width="0.7"/>
</g>
<rect x="529.75" y="155.61" width="5.50" height="55.09" fill="none" stroke="#0a0a0a" stroke-width="1.1"/>
<clipPath id="c24"><rect x="543.25" y="161.25" width="5.50" height="49.45"/></clipPath>
<rect x="543.25" y="161.25" width="5.50" height="49.45" fill="#fafafa"/>
<g clip-path="url(#c24)">
<path d="M543.25 161.25L548.75 168.25L543.25 175.25L548.75 182.25L543.25 189.25L548.75 196.25L543.25 203.25L548.75 210.25L543.25 217.25M548.75 161.25L543.25 168.25L548.75 175.25L543.25 182.25L548.75 189.25L543.25 196.25L548.75 203.25L543.25 210.25L548.75 217.25" fill="none" stroke="#a0a0a0" stroke-width="0.8"/>
</g>
<rect x="543.25" y="161.25" width="5.50" height="49.45" fill="none" stroke="#0a0a0a" stroke-width="1.1"/>
<clipPath id="c25"><rect x="556.25" y="165.59" width="5.50" height="45.11"/></clipPath>
<rect x="556.25" y="165.59" width="5.50" height="45.11" fill="#fff"/>
<g clip-path="url(#c25)">
<path d="M556.25 165.59L561.75 171.09L556.25 176.59L561.75 182.09L556.25 187.59L561.75 193.09L556.25 198.59L561.75 204.09L556.25 209.59L561.75 215.09M561.75 165.59L556.25 171.09L561.75 176.59L556.25 182.09L561.75 187.59L556.25 193.09L561.75 198.59L556.25 204.09L561.75 209.59L556.25 215.09" fill="none" stroke="#2a2a2a" stroke-width="0.95"/>
</g>
<rect x="556.25" y="165.59" width="5.50" height="45.11" fill="none" stroke="#0a0a0a" stroke-width="1.1"/>
<rect x="569.75" y="180.34" width="5.50" height="30.36" fill="url(#b5)" stroke="#0a0a0a" stroke-width="1.1"/>
<rect x="582" y="185" width="6.00" height="25.70" fill="#fff"/>
<path d="M582.00 185.00h2.00v2.00h-2.00zM586.00 185.00h2.00v2.00h-2.00zM584.00 187.00h2.00v2.00h-2.00zM582.00 189.00h2.00v2.00h-2.00zM586.00 189.00h2.00v2.00h-2.00zM584.00 191.00h2.00v2.00h-2.00zM582.00 193.00h2.00v2.00h-2.00zM586.00 193.00h2.00v2.00h-2.00zM584.00 195.00h2.00v2.00h-2.00zM582.00 197.00h2.00v2.00h-2.00zM586.00 197.00h2.00v2.00h-2.00zM584.00 199.00h2.00v2.00h-2.00zM582.00 201.00h2.00v2.00h-2.00zM586.00 201.00h2.00v2.00h-2.00zM584.00 203.00h2.00v2.00h-2.00zM582.00 205.00h2.00v2.00h-2.00zM586.00 205.00h2.00v2.00h-2.00zM584.00 207.00h2.00v2.00h-2.00zM582.00 209.00h2.00v1.70h-2.00zM586.00 209.00h2.00v1.70h-2.00z" fill="#0c0c0c"/>
<rect x="582.40" y="185.40" width="5.20" height="25.30" fill="none" stroke="#0c0c0c" stroke-width="0.8"/>
<path d="M512.50 141.30V210.70H592.30" fill="none" stroke="#111" stroke-width="1.1"/>
<path d="M509.90 210.70H512.50" stroke="#111" stroke-width="1"/>
<text x="506.90" y="213.50" font-size="8.3" text-anchor="end" font-weight="normal" fill="#111" stroke="#111" stroke-width="0.25" >8</text>
<path d="M509.90 193.35H512.50" stroke="#111" stroke-width="1"/>
<text x="506.90" y="196.15" font-size="8.3" text-anchor="end" font-weight="normal" fill="#111" stroke="#111" stroke-width="0.25" >8.2</text>
<path d="M509.90 176.00H512.50" stroke="#111" stroke-width="1"/>
<text x="506.90" y="178.80" font-size="8.3" text-anchor="end" font-weight="normal" fill="#111" stroke="#111" stroke-width="0.25" >8.4</text>
<path d="M509.90 158.65H512.50" stroke="#111" stroke-width="1"/>
<text x="506.90" y="161.45" font-size="8.3" text-anchor="end" font-weight="normal" fill="#111" stroke="#111" stroke-width="0.25" >8.6</text>
<path d="M509.90 141.30H512.50" stroke="#111" stroke-width="1"/>
<text x="506.90" y="144.10" font-size="8.3" text-anchor="end" font-weight="normal" fill="#111" stroke="#111" stroke-width="0.25" >8.8</text>
<path d="M512.50 210.70V213.30" stroke="#111" stroke-width="1"/>
<path d="M525.80 210.70V213.30" stroke="#111" stroke-width="1"/>
<path d="M539.10 210.70V213.30" stroke="#111" stroke-width="1"/>
<path d="M552.40 210.70V213.30" stroke="#111" stroke-width="1"/>
<path d="M565.70 210.70V213.30" stroke="#111" stroke-width="1"/>
<path d="M579.00 210.70V213.30" stroke="#111" stroke-width="1"/>
<path d="M592.30 210.70V213.30" stroke="#111" stroke-width="1"/>
<text x="519.15" y="224.00" font-size="8.3" text-anchor="middle" font-weight="normal" fill="#111" stroke="#111" stroke-width="0.25" >4</text>
<text x="532.45" y="224.00" font-size="8.3" text-anchor="middle" font-weight="normal" fill="#111" stroke="#111" stroke-width="0.25" >25</text>
<text x="545.75" y="224.00" font-size="8.3" text-anchor="middle" font-weight="normal" fill="#111" stroke="#111" stroke-width="0.25" >37</text>
<text x="559.05" y="224.00" font-size="8.3" text-anchor="middle" font-weight="normal" fill="#111" stroke="#111" stroke-width="0.25" >55</text>
<text x="572.35" y="224.00" font-size="8.3" text-anchor="middle" font-weight="normal" fill="#111" stroke="#111" stroke-width="0.25" >65</text>
<text x="585.65" y="224.00" font-size="8.3" text-anchor="middle" font-weight="normal" fill="#111" stroke="#111" stroke-width="0.25" >75</text>
<text x="537.20" y="244.80" font-size="9.6" text-anchor="middle" font-weight="normal" fill="#111" stroke="#111" stroke-width="0.25" >(d)</text>
<g transform="translate(488.30,175.00) rotate(-90)">
<text x="0" y="0" font-size="9.2" font-weight="bold" fill="#111" stroke="#111" stroke-width="0.35" text-anchor="middle" textLength="63" lengthAdjust="spacingAndGlyphs" dominant-baseline="central">Log<tspan font-size="6.26" dy="1.47">10</tspan><tspan dy="-1.47"> (PFU/mL)</tspan></text>
</g>
<clipPath id="c27"><rect x="643.25" y="151.71" width="5.50" height="58.99"/></clipPath>
<rect x="643.25" y="151.71" width="5.50" height="58.99" fill="#fff"/>
<g clip-path="url(#c27)">
<path d="M644.45 153.91h1.4v1.4h-1.4zM646.25 158.21h1.4v1.4h-1.4zM644.45 162.51h1.4v1.4h-1.4zM646.25 166.81h1.4v1.4h-1.4zM644.45 171.11h1.4v1.4h-1.4zM646.25 175.41h1.4v1.4h-1.4zM644.45 179.71h1.4v1.4h-1.4zM646.25 184.01h1.4v1.4h-1.4zM644.45 188.31h1.4v1.4h-1.4zM646.25 192.61h1.4v1.4h-1.4zM644.45 196.91h1.4v1.4h-1.4zM646.25 201.21h1.4v1.4h-1.4zM644.45 205.51h1.4v1.4h-1.4zM646.25 209.81h1.4v1.4h-1.4z" fill="#2a2a2a"/>
</g>
<rect x="643.25" y="151.71" width="5.50" height="58.99" fill="none" stroke="#0a0a0a" stroke-width="1.1"/>
<clipPath id="c28"><rect x="656.75" y="157.49" width="5.50" height="53.21"/></clipPath>
<rect x="656.75" y="157.49" width="5.50" height="53.21" fill="#fff"/>
<g clip-path="url(#c28)">
<path d="M659.50 157.49V210.70M656.75 160.09h5.50M656.75 163.69h5.50M656.75 167.29h5.50M656.75 170.89h5.50M656.75 174.49h5.50M656.75 178.09h5.50M656.75 181.69h5.50M656.75 185.29h5.50M656.75 188.89h5.50M656.75 192.49h5.50M656.75 196.09h5.50M656.75 199.69h5.50M656.75 203.29h5.50M656.75 206.89h5.50M656.75 210.49h5.50" fill="none" stroke="#bdbdbd" stroke-width="0.7"/>
</g>
<rect x="656.75" y="157.49" width="5.50" height="53.21" fill="none" stroke="#0a0a0a" stroke-width="1.1"/>
<clipPath id="c29"><rect x="670.25" y="158.65" width="5.50" height="52.05"/></clipPath>
<rect x="670.25" y="158.65" width="5.50" height="52.05" fill="#fafafa"/>
<g clip-path="url(#c29)">
<path d="M670.25 158.65L675.75 165.65L670.25 172.65L675.75 179.65L670.25 186.65L675.75 193.65L670.25 200.65L675.75 207.65L670.25 214.65M675.75 158.65L670.25 165.65L675.75 172.65L670.25 179.65L675.75 186.65L670.25 193.65L675.75 200.65L670.25 207.65L675.75 214.65" fill="none" stroke="#a0a0a0" stroke-width="0.8"/>
</g>
<rect x="670.25" y="158.65" width="5.50" height="52.05" fill="none" stroke="#0a0a0a" stroke-width="1.1"/>
<clipPath id="c30"><rect x="683.25" y="166.17" width="5.50" height="44.53"/></clipPath>
<rect x="683.25" y="166.17" width="5.50" height="44.53" fill="#fff"/>
<g clip-path="url(#c30)">
<path d="M683.25 166.17L688.75 171.67L683.25 177.17L688.75 182.67L683.25 188.17L688.75 193.67L683.25 199.17L688.75 204.67L683.25 210.17L688.75 215.67M688.75 166.17L683.25 171.67L688.75 177.17L683.25 182.67L688.75 188.17L683.25 193.67L688.75 199.17L683.25 204.67L688.75 210.17L683.25 215.67" fill="none" stroke="#2a2a2a" stroke-width="0.95"/>
</g>
<rect x="683.25" y="166.17" width="5.50" height="44.53" fill="none" stroke="#0a0a0a" stroke-width="1.1"/>
<rect x="696.75" y="172.53" width="5.50" height="38.17" fill="url(#b5)" stroke="#0a0a0a" stroke-width="1.1"/>
<rect x="710" y="187" width="6.00" height="23.70" fill="#fff"/>
<path d="M710.00 187.00h2.00v2.00h-2.00zM714.00 187.00h2.00v2.00h-2.00zM712.00 189.00h2.00v2.00h-2.00zM710.00 191.00h2.00v2.00h-2.00zM714.00 191.00h2.00v2.00h-2.00zM712.00 193.00h2.00v2.00h-2.00zM710.00 195.00h2.00v2.00h-2.00zM714.00 195.00h2.00v2.00h-2.00zM712.00 197.00h2.00v2.00h-2.00zM710.00 199.00h2.00v2.00h-2.00zM714.00 199.00h2.00v2.00h-2.00zM712.00 201.00h2.00v2.00h-2.00zM710.00 203.00h2.00v2.00h-2.00zM714.00 203.00h2.00v2.00h-2.00zM712.00 205.00h2.00v2.00h-2.00zM710.00 207.00h2.00v2.00h-2.00zM714.00 207.00h2.00v2.00h-2.00zM712.00 209.00h2.00v1.70h-2.00z" fill="#0c0c0c"/>
<rect x="710.40" y="187.40" width="5.20" height="23.30" fill="none" stroke="#0c0c0c" stroke-width="0.8"/>
<path d="M639.50 141.30V210.70H719.30" fill="none" stroke="#111" stroke-width="1.1"/>
<path d="M636.90 210.70H639.50" stroke="#111" stroke-width="1"/>
<text x="633.50" y="213.50" font-size="8.3" text-anchor="end" font-weight="normal" fill="#111" stroke="#111" stroke-width="0.25" >8</text>
<path d="M636.90 199.13H639.50" stroke="#111" stroke-width="1"/>
<text x="633.50" y="201.93" font-size="8.3" text-anchor="end" font-weight="normal" fill="#111" stroke="#111" stroke-width="0.25" >8.2</text>
<path d="M636.90 187.57H639.50" stroke="#111" stroke-width="1"/>
<text x="633.50" y="190.37" font-size="8.3" text-anchor="end" font-weight="normal" fill="#111" stroke="#111" stroke-width="0.25" >8.4</text>
<path d="M636.90 176.00H639.50" stroke="#111" stroke-width="1"/>
<text x="633.50" y="178.80" font-size="8.3" text-anchor="end" font-weight="normal" fill="#111" stroke="#111" stroke-width="0.25" >8.6</text>
<path d="M636.90 164.43H639.50" stroke="#111" stroke-width="1"/>
<text x="633.50" y="167.23" font-size="8.3" text-anchor="end" font-weight="normal" fill="#111" stroke="#111" stroke-width="0.25" >8.8</text>
<path d="M636.90 152.87H639.50" stroke="#111" stroke-width="1"/>
<text x="633.50" y="155.67" font-size="8.3" text-anchor="end" font-weight="normal" fill="#111" stroke="#111" stroke-width="0.25" >9</text>
<path d="M636.90 141.30H639.50" stroke="#111" stroke-width="1"/>
<text x="633.50" y="144.10" font-size="8.3" text-anchor="end" font-weight="normal" fill="#111" stroke="#111" stroke-width="0.25" >9.2</text>
<path d="M639.50 210.70V213.30" stroke="#111" stroke-width="1"/>
<path d="M652.80 210.70V213.30" stroke="#111" stroke-width="1"/>
<path d="M666.10 210.70V213.30" stroke="#111" stroke-width="1"/>
<path d="M679.40 210.70V213.30" stroke="#111" stroke-width="1"/>
<path d="M692.70 210.70V213.30" stroke="#111" stroke-width="1"/>
<path d="M706.00 210.70V213.30" stroke="#111" stroke-width="1"/>
<path d="M719.30 210.70V213.30" stroke="#111" stroke-width="1"/>
<text x="646.15" y="224.00" font-size="8.3" text-anchor="middle" font-weight="normal" fill="#111" stroke="#111" stroke-width="0.25" >4</text>
<text x="659.45" y="224.00" font-size="8.3" text-anchor="middle" font-weight="normal" fill="#111" stroke="#111" stroke-width="0.25" >25</text>
<text x="672.75" y="224.00" font-size="8.3" text-anchor="middle" font-weight="normal" fill="#111" stroke="#111" stroke-width="0.25" >37</text>
<text x="686.05" y="224.00" font-size="8.3" text-anchor="middle" font-weight="normal" fill="#111" stroke="#111" stroke-width="0.25" >55</text>
<text x="699.35" y="224.00" font-size="8.3" text-anchor="middle" font-weight="normal" fill="#111" stroke="#111" stroke-width="0.25" >65</text>
<text x="712.65" y="224.00" font-size="8.3" text-anchor="middle" font-weight="normal" fill="#111" stroke="#111" stroke-width="0.25" >75</text>
<text x="665.00" y="244.80" font-size="9.6" text-anchor="middle" font-weight="normal" fill="#111" stroke="#111" stroke-width="0.25" >(e)</text>
<g transform="translate(616.00,175.00) rotate(-90)">
<text x="0" y="0" font-size="9.2" font-weight="bold" fill="#111" stroke="#111" stroke-width="0.35" text-anchor="middle" textLength="63" lengthAdjust="spacingAndGlyphs" dominant-baseline="central">Log<tspan font-size="6.26" dy="1.47">10</tspan><tspan dy="-1.47"> (PFU/mL)</tspan></text>
</g>
<path d="M284.50 272.20V455.80H530.06" fill="none" stroke="#6e6e6e" stroke-width="1.3"/>
<path d="M281.30 455.80H284.50" stroke="#6e6e6e" stroke-width="1.3"/>
<text x="275.00" y="459.20" font-size="10" text-anchor="end" font-weight="normal" fill="#444" stroke="#444" stroke-width="0.25" >7</text>
<path d="M281.30 429.57H284.50" stroke="#6e6e6e" stroke-width="1.3"/>
<text x="275.00" y="432.97" font-size="10" text-anchor="end" font-weight="normal" fill="#444" stroke="#444" stroke-width="0.25" >7.4</text>
<path d="M281.30 403.34H284.50" stroke="#6e6e6e" stroke-width="1.3"/>
<text x="275.00" y="406.74" font-size="10" text-anchor="end" font-weight="normal" fill="#444" stroke="#444" stroke-width="0.25" >7.8</text>
<path d="M281.30 377.11H284.50" stroke="#6e6e6e" stroke-width="1.3"/>
<text x="275.00" y="380.51" font-size="10" text-anchor="end" font-weight="normal" fill="#444" stroke="#444" stroke-width="0.25" >8.2</text>
<path d="M281.30 350.89H284.50" stroke="#6e6e6e" stroke-width="1.3"/>
<text x="275.00" y="354.29" font-size="10" text-anchor="end" font-weight="normal" fill="#444" stroke="#444" stroke-width="0.25" >8.6</text>
<path d="M281.30 324.66H284.50" stroke="#6e6e6e" stroke-width="1.3"/>
<text x="275.00" y="328.06" font-size="10" text-anchor="end" font-weight="normal" fill="#444" stroke="#444" stroke-width="0.25" >9</text>
<path d="M281.30 298.43H284.50" stroke="#6e6e6e" stroke-width="1.3"/>
<text x="275.00" y="301.83" font-size="10" text-anchor="end" font-weight="normal" fill="#444" stroke="#444" stroke-width="0.25" >9.4</text>
<path d="M281.30 272.20H284.50" stroke="#6e6e6e" stroke-width="1.3"/>
<text x="275.00" y="275.60" font-size="10" text-anchor="end" font-weight="normal" fill="#444" stroke="#444" stroke-width="0.25" >9.8</text>
<path d="M284.50 455.80V459.40" stroke="#6e6e6e" stroke-width="1.3"/>
<text x="284.10" y="473.30" font-size="10" text-anchor="middle" font-weight="normal" fill="#333" stroke="#333" stroke-width="0.25" >0</text>
<path d="M319.58 455.80V459.40" stroke="#6e6e6e" stroke-width="1.3"/>
<text x="319.18" y="473.30" font-size="10" text-anchor="middle" font-weight="normal" fill="#333" stroke="#333" stroke-width="0.25" >1</text>
<path d="M354.66 455.80V459.40" stroke="#6e6e6e" stroke-width="1.3"/>
<text x="354.26" y="473.30" font-size="10" text-anchor="middle" font-weight="normal" fill="#333" stroke="#333" stroke-width="0.25" >2</text>
<path d="M389.74 455.80V459.40" stroke="#6e6e6e" stroke-width="1.3"/>
<text x="389.34" y="473.30" font-size="10" text-anchor="middle" font-weight="normal" fill="#333" stroke="#333" stroke-width="0.25" >3</text>
<path d="M424.82 455.80V459.40" stroke="#6e6e6e" stroke-width="1.3"/>
<text x="424.42" y="473.30" font-size="10" text-anchor="middle" font-weight="normal" fill="#333" stroke="#333" stroke-width="0.25" >4</text>
<path d="M459.90 455.80V459.40" stroke="#6e6e6e" stroke-width="1.3"/>
<text x="459.50" y="473.30" font-size="10" text-anchor="middle" font-weight="normal" fill="#333" stroke="#333" stroke-width="0.25" >5</text>
<path d="M494.98 455.80V459.40" stroke="#6e6e6e" stroke-width="1.3"/>
<text x="494.58" y="473.30" font-size="10" text-anchor="middle" font-weight="normal" fill="#333" stroke="#333" stroke-width="0.25" >6</text>
<path d="M530.06 455.80V459.40" stroke="#6e6e6e" stroke-width="1.3"/>
<text x="529.66" y="473.30" font-size="10" text-anchor="middle" font-weight="normal" fill="#333" stroke="#333" stroke-width="0.25" >7</text>
<g transform="translate(252.90,363.60) rotate(-90)">
<text x="0" y="0" font-size="11.2" font-weight="bold" fill="#333" stroke="#333" stroke-width="0.35" text-anchor="middle" textLength="77.5" lengthAdjust="spacingAndGlyphs" dominant-baseline="central">Log<tspan font-size="7.62" dy="1.79">10</tspan><tspan dy="-1.79"> (PFU/mL)</tspan></text>
</g>
<polyline points="284.50,317.30 319.40,349.10 459.50,359.50 529.80,391.80" fill="none" stroke="#7f7f7f" stroke-width="2" stroke-linejoin="round"/>
<circle cx="284.50" cy="317.30" r="2.65" fill="#7f7f7f"/>
<circle cx="319.40" cy="349.10" r="3.90" fill="#7f7f7f"/>
<circle cx="459.50" cy="359.50" r="3.90" fill="#7f7f7f"/>
<circle cx="529.80" cy="391.80" r="3.90" fill="#7f7f7f"/>
<polyline points="284.20,293.30 319.50,293.30 458.80,296.60 529.90,303.60" fill="none" stroke="#a9a9a9" stroke-width="2" stroke-linejoin="round"/>
<rect x="280.72" y="289.82" width="6.97" height="6.97" fill="#a9a9a9"/>
<rect x="316.02" y="289.82" width="6.97" height="6.97" fill="#a9a9a9"/>
<rect x="454.75" y="292.55" width="8.10" height="8.10" fill="#a9a9a9"/>
<rect x="525.85" y="299.55" width="8.10" height="8.10" fill="#a9a9a9"/>
<polyline points="284.10,296.20 320.00,298.80 459.80,318.20 529.90,321.50" fill="none" stroke="#606060" stroke-width="2" stroke-linejoin="round"/>
<path d="M284.10 293.02L287.28 296.84V299.38H280.92V296.84Z" fill="#606060" stroke="#606060" stroke-width="2.06" stroke-linejoin="round"/>
<path d="M320.00 295.62L323.18 299.44V301.98H316.82V299.44Z" fill="#606060" stroke="#606060" stroke-width="2.06" stroke-linejoin="round"/>
<path d="M459.80 314.50L463.50 318.94V321.90H456.10V318.94Z" fill="#606060" stroke="#606060" stroke-width="2.40" stroke-linejoin="round"/>
<path d="M529.90 317.80L533.60 322.24V325.20H526.20V322.24Z" fill="#606060" stroke="#606060" stroke-width="2.40" stroke-linejoin="round"/>
<polyline points="284.00,368.20 319.60,395.40 459.00,428.20 529.80,436.20" fill="none" stroke="#696969" stroke-width="2" stroke-linejoin="round"/>
<path d="M284.00 363.70L288.50 368.20L284.00 372.70L279.50 368.20Z" fill="#696969" stroke="#696969" stroke-width="1.2" stroke-linejoin="round"/>
<path d="M319.60 390.90L324.10 395.40L319.60 399.90L315.10 395.40Z" fill="#696969" stroke="#696969" stroke-width="1.2" stroke-linejoin="round"/>
<path d="M459.00 423.70L463.50 428.20L459.00 432.70L454.50 428.20Z" fill="#696969" stroke="#696969" stroke-width="1.2" stroke-linejoin="round"/>
<path d="M529.80 431.70L534.30 436.20L529.80 440.70L525.30 436.20Z" fill="#696969" stroke="#696969" stroke-width="1.2" stroke-linejoin="round"/>
<polyline points="283.80,324.30 318.90,357.20 459.50,390.10 529.80,443.00" fill="none" stroke="#999999" stroke-width="2" stroke-linejoin="round"/>
<rect x="278.90" y="320.40" width="9.80" height="7.80" rx="2.6" fill="#999999"/>
<rect x="314.00" y="353.30" width="9.80" height="7.80" rx="2.6" fill="#999999"/>
<rect x="454.60" y="386.20" width="9.80" height="7.80" rx="2.6" fill="#999999"/>
<rect x="524.90" y="439.10" width="9.80" height="7.80" rx="2.6" fill="#999999"/>
<path d="M548.8 332.10H569.6" stroke="#7f7f7f" stroke-width="1.8"/>
<circle cx="559.30" cy="332.10" r="3.51" fill="#7f7f7f"/>
<text x="571.00" y="336.10" font-size="11.8" text-anchor="start" font-weight="bold" fill="#444" stroke="#444" stroke-width="0.25" textLength="36.2" lengthAdjust="spacingAndGlyphs">EPEC K</text>
<path d="M548.8 351.70H569.6" stroke="#606060" stroke-width="1.8"/>
<path d="M559.30 348.37L562.63 352.37V355.03H555.97V352.37Z" fill="#606060" stroke="#606060" stroke-width="2.16" stroke-linejoin="round"/>
<text x="571.00" y="355.70" font-size="11.8" text-anchor="start" font-weight="bold" fill="#444" stroke="#444" stroke-width="0.25" textLength="38.8" lengthAdjust="spacingAndGlyphs">EPEC BI</text>
<path d="M548.8 371.30H569.6" stroke="#a9a9a9" stroke-width="1.8"/>
<rect x="555.65" y="367.66" width="7.29" height="7.29" fill="#a9a9a9"/>
<text x="571.00" y="375.30" font-size="11.8" text-anchor="start" font-weight="bold" fill="#444" stroke="#444" stroke-width="0.25" textLength="41.3" lengthAdjust="spacingAndGlyphs">EPEC BL</text>
<path d="M548.8 391.00H569.6" stroke="#696969" stroke-width="1.8"/>
<path d="M559.30 386.95L563.35 391.00L559.30 395.05L555.25 391.00Z" fill="#696969" stroke="#696969" stroke-width="1.2" stroke-linejoin="round"/>
<text x="571.00" y="395.00" font-size="11.8" text-anchor="start" font-weight="bold" fill="#444" stroke="#444" stroke-width="0.25" textLength="38.8" lengthAdjust="spacingAndGlyphs">EPEC CI</text>
<path d="M548.8 410.80H569.6" stroke="#999999" stroke-width="1.8"/>
<rect x="554.89" y="407.29" width="8.82" height="7.02" rx="2.6" fill="#999999"/>
<text x="571.00" y="414.80" font-size="11.8" text-anchor="start" font-weight="bold" fill="#444" stroke="#444" stroke-width="0.25" textLength="41.6" lengthAdjust="spacingAndGlyphs">EPEC CS</text>
</svg>
</body></html>
